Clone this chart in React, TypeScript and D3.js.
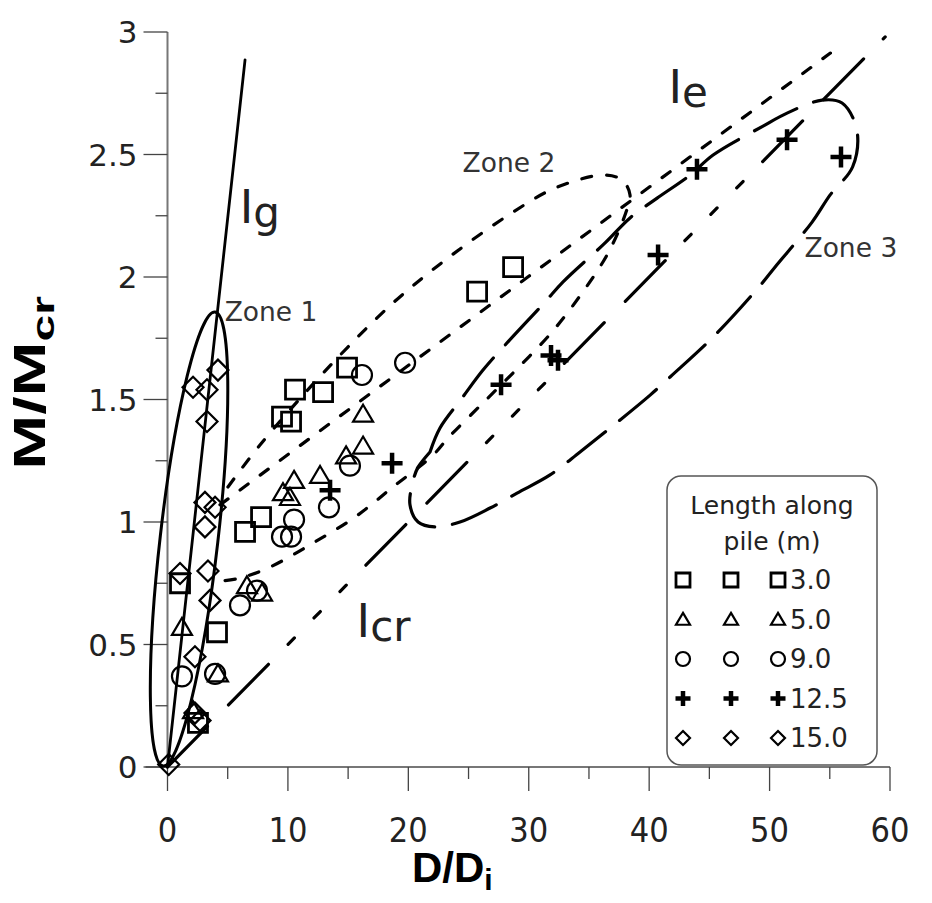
import * as d3 from 'd3';

const W = 932;
const H = 903;

// data points [D/Di, M/Mcr] grouped by length along pile
const sq30: [number, number][] = [
  [1.04, 0.75], [2.53, 0.18], [4.11, 0.55], [6.44, 0.96], [7.77, 1.02],
  [9.51, 1.43], [10.26, 1.41], [10.59, 1.54], [12.92, 1.53], [14.91, 1.63],
  [25.71, 1.94], [28.7, 2.04],
];
const tri50: [number, number][] = [
  [1.2, 0.57], [2.12, 0.23], [4.19, 0.38], [6.6, 0.74], [7.85, 0.71],
  [9.59, 1.12], [10.17, 1.1], [10.51, 1.17], [12.67, 1.19], [14.83, 1.27],
  [16.24, 1.31], [16.24, 1.44],
];
const circ90: [number, number][] = [
  [1.2, 0.37], [3.95, 0.38], [6.02, 0.66], [7.43, 0.72], [9.51, 0.94],
  [10.26, 0.94], [10.51, 1.01], [13.41, 1.06], [15.15, 1.23], [16.15, 1.6],
  [19.73, 1.65],
];
const plus125: [number, number][] = [
  [13.5, 1.13], [18.65, 1.24], [27.7, 1.56], [31.85, 1.68], [32.43, 1.66],
  [40.74, 2.09], [43.97, 2.44], [51.45, 2.56], [55.93, 2.49],
];
const diam150: [number, number][] = [
  [4.19, 1.62], [2.12, 1.55], [3.28, 1.54], [3.28, 1.41], [3.11, 1.08],
  [3.95, 1.06], [3.11, 0.98], [3.36, 0.8], [1.04, 0.79], [3.53, 0.68],
  [2.28, 0.45], [2.28, 0.22], [2.7, 0.19], [0.1, 0.01],
];

const xTicks = [0, 10, 20, 30, 40, 50, 60];
const xMinor = [5, 15, 25, 35, 45, 55];
const yTicks = [0, 0.5, 1, 1.5, 2, 2.5, 3];
const yMinor = [0.25, 0.75, 1.25, 1.75, 2.25, 2.75];

// guide lines
const igLine: [number, number][] = [[0, 0], [6.44, 2.886]];
const icrLine: [number, number][] = [[0, 0], [59.6, 2.98]];
const ieLine: [number, number][] = [[4.36, 1.07], [55.05, 2.914]];
const zone1Tips: [number, number][] = [[-0.37, 0.004], [3.95, 1.857]];
const zone1HalfWidth = 2.4; // in D/Di units
const zone2: [number, number][] = [
  [5.02, 1.143], [7.68, 1.314], [13.33, 1.629], [18.73, 1.894], [23.63, 2.09],
  [28.7, 2.265], [32.18, 2.363], [36.17, 2.416], [37.75, 2.396], [38.41, 2.335],
  [38.08, 2.265], [36.59, 2.098], [34.43, 1.935], [31.94, 1.776], [29.11, 1.629],
  [26.2, 1.486], [23.3, 1.343], [22.05, 1.273], [18.73, 1.143], [15.57, 1.02],
  [12.08, 0.914], [8.51, 0.816], [6.02, 0.771], [3.7, 0.755],
];
const zone3: [number, number][] = [
  [21.8, 1.286], [22.63, 1.384], [24.46, 1.506], [26.2, 1.62], [28.03, 1.722],
  [31.35, 1.898], [32.85, 1.98], [36.34, 2.139], [38.41, 2.241], [40.66, 2.322],
  [43.4, 2.416], [45.31, 2.498], [49.46, 2.616], [51.45, 2.669], [54.36, 2.722],
  [56.02, 2.71], [57.25, 2.6], [56.9, 2.45], [55.03, 2.335],
  [53.53, 2.224], [50.46, 2.041], [49.04, 1.955], [45.31, 1.755], [41.74, 1.592],
  [40.08, 1.518], [36.34, 1.367], [34.26, 1.286], [31.77, 1.192], [29.03, 1.118],
  [26.79, 1.057], [24.29, 1.0], [22.22, 0.98], [20.81, 1.0], [20.14, 1.069],
  [20.31, 1.151], [20.81, 1.224], [21.8, 1.286],
];

const annotations = [
  { x: 6.0, y: 2.22, main: 'I', sub: 'g' },
  { x: 41.6, y: 2.71, main: 'I', sub: 'e' },
  { x: 15.7, y: 0.53, main: 'I', sub: 'cr' },
];
const zoneLabels = [
  { x: 4.75, y: 1.82, text: 'Zone 1' },
  { x: 24.5, y: 2.43, text: 'Zone 2' },
  { x: 52.9, y: 2.08, text: 'Zone 3' },
];
const legendItems = [
  { label: '3.0', shape: 'square' },
  { label: '5.0', shape: 'triangle' },
  { label: '9.0', shape: 'circle' },
  { label: '12.5', shape: 'plus' },
  { label: '15.0', shape: 'diamond' },
];

const x = d3.scaleLinear().domain([0, 60]).range([167.5, 890]);
const y = d3.scaleLinear().domain([0, 3]).range([767, 32]);

const line = d3.line<[number, number]>().x(d => x(d[0])).y(d => y(d[1]));
const smooth = d3.line<[number, number]>().x(d => x(d[0])).y(d => y(d[1])).curve(d3.curveCatmullRom.alpha(0.5));

const sansWide = "'DejaVu Sans', sans-serif";
const sansNarrow = "'Liberation Sans Narrow', 'DejaVu Sans Condensed', sans-serif";
const sansBold = "'Liberation Sans', Arial, sans-serif";

function markerPath(shape: string, s: number) {
  const h = s / 2;
  if (shape === 'square') return `M${-h},${-h}H${h}V${h}H${-h}Z`;
  if (shape === 'triangle') return `M0,${-h * 0.95}L${h},${h * 0.75}L${-h},${h * 0.75}Z`;
  if (shape === 'diamond') return `M0,${-h}L${h},0L0,${h}L${-h},0Z`;
  if (shape === 'plus') return `M${-h},0H${h}M0,${-h}V${h}`;
  return '';
}

function Marker({ shape, cx, cy, s }: { shape: string; cx: number; cy: number; s: number }) {
  if (shape === 'circle') {
    return <circle cx={cx} cy={cy} r={s / 2} fill="none" stroke="#000" strokeWidth={2.2} />;
  }
  return (
    <path
      transform={`translate(${cx},${cy})`}
      d={markerPath(shape, s)}
      fill="none"
      stroke="#000"
      strokeWidth={shape === 'plus' ? 4.5 : shape === 'square' ? 2.8 : 2.2}
      strokeLinejoin="miter"
    />
  );
}

function zone1Path() {
  const [p0, p1] = zone1Tips.map(d => [x(d[0]), y(d[1])]);
  const cx = (p0[0] + p1[0]) / 2;
  const cy = (p0[1] + p1[1]) / 2;
  const a = Math.hypot(p1[0] - p0[0], p1[1] - p0[1]) / 2;
  const b = x(zone1HalfWidth) - x(0);
  const ang = (Math.atan2(p1[1] - p0[1], p1[0] - p0[0]) * 180) / Math.PI;
  return { cx, cy, a, b, ang };
}

export default function App() {
  const e = zone1Path();
  const series: { shape: string; data: [number, number][]; s: number }[] = [
    { shape: 'square', data: sq30, s: 19 },
    { shape: 'triangle', data: tri50, s: 20 },
    { shape: 'circle', data: circ90, s: 20 },
    { shape: 'plus', data: plus125, s: 21 },
    { shape: 'diamond', data: diam150, s: 21 },
  ];
  const lg = { x0: 667, y0: 476, w: 210, h: 289 };
  const cols = [683, 731, 778];

  return (
    <svg width={W} height={H} style={{ position: 'absolute', left: 0, top: 0, background: '#fff' }}>
      {/* axes */}
      <g stroke="#444" strokeWidth={1.3}>
        <line x1={x(0)} x2={x(0)} y1={y(3)} y2={y(0)} stroke="#777" strokeWidth={2} />
        <line x1={x(0) - 22} x2={x(60)} y1={y(0)} y2={y(0)} stroke="#777" strokeWidth={2} />
        {yTicks.map(t => (
          <line key={'yt' + t} x1={x(0) - 24} x2={x(0)} y1={y(t)} y2={y(t)} />
        ))}
        {yMinor.map(t => (
          <line key={'ym' + t} x1={x(0) - 12} x2={x(0)} y1={y(t)} y2={y(t)} />
        ))}
        {xTicks.map(t => (
          <line key={'xt' + t} x1={x(t)} x2={x(t)} y1={y(0)} y2={y(0) + 24} />
        ))}
        {xMinor.map(t => (
          <line key={'xm' + t} x1={x(t)} x2={x(t)} y1={y(0)} y2={y(0) + 12} />
        ))}
      </g>
      <g fontFamily={sansWide} fontSize={31} fill="#222">
        {yTicks.map(t => (
          <text key={'yl' + t} x={x(0) - 30} y={y(t)} dy="0.36em" textAnchor="end">
            {String(t)}
          </text>
        ))}
      </g>
      <g fontFamily={sansNarrow} fontSize={34} fill="#222">
        {xTicks.map(t => (
          <text key={'xl' + t} x={x(t)} y={y(0) + 75} textAnchor="middle">
            {String(t)}
          </text>
        ))}
      </g>
      <text x={412} y={882} fontFamily={sansBold} fontWeight="bold" fontSize={42} fill="#000">
        D/D<tspan fontSize={30} dy={8}>i</tspan>
      </text>
      <text transform={`translate(45,383) rotate(-90) scale(1.5,1)`} fontFamily={sansBold} fontWeight="bold" fontSize={44} textAnchor="middle" fill="#000">
        M/M<tspan fontSize={32} dy={9}>cr</tspan>
      </text>

      {/* guide lines and zones */}
      <g fill="none" stroke="#000" strokeLinecap="round">
        <path d={line(igLine) ?? ''} strokeWidth={2.8} />
        <ellipse cx={0} cy={0} rx={e.a} ry={e.b} transform={`translate(${e.cx},${e.cy}) rotate(${e.ang})`} strokeWidth={3} />
        <path d={line(icrLine) ?? ''} strokeWidth={3.2} strokeDasharray="57 30 57 28 9 28 9 28 9 28" />
        <path d={line(ieLine) ?? ''} strokeWidth={3.2} strokeDasharray="10 15" />
        <path d={smooth(zone2) ?? ''} strokeWidth={3.2} strokeDasharray="10 15" />
        <path d={smooth(zone3) ?? ''} strokeWidth={3.2} strokeDasharray="48 18" />
      </g>

      {/* data markers */}
      {series.map(sr => (
        <g key={sr.shape}>
          {sr.data.map((d, i) => (
            <Marker key={i} shape={sr.shape} cx={x(d[0])} cy={y(d[1])} s={sr.s} />
          ))}
        </g>
      ))}

      {/* annotations */}
      <g fontFamily={sansWide} fill="#222">
        {annotations.map(a => (
          <text key={a.sub} x={x(a.x)} y={y(a.y)} fontSize={46}>
            {a.main}
            <tspan fontSize={42} dy={4}>{a.sub}</tspan>
          </text>
        ))}
        {zoneLabels.map(z => (
          <text key={z.text} x={x(z.x)} y={y(z.y)} fontSize={26.5} fill="#333">
            {z.text}
          </text>
        ))}
      </g>

      {/* legend */}
      <g>
        <rect x={lg.x0} y={lg.y0} width={lg.w} height={lg.h} rx={14} fill="#fff" stroke="#555" strokeWidth={1.5} />
        <text x={lg.x0 + lg.w / 2} y={lg.y0 + 38} textAnchor="middle" fontFamily={sansWide} fontSize={25} fill="#222">
          Length along
        </text>
        <text x={lg.x0 + lg.w / 2} y={lg.y0 + 74} textAnchor="middle" fontFamily={sansWide} fontSize={25} fill="#222">
          pile (m)
        </text>
        {legendItems.map((it, i) => {
          const cy = lg.y0 + 104 + i * 39.5;
          return (
            <g key={it.label}>
              {cols.map(cx => (
                <Marker key={cx} shape={it.shape} cx={cx} cy={cy} s={it.shape === 'plus' ? 15 : 14} />
              ))}
              <text x={cols[2] + 12} y={cy} dy="0.36em" fontFamily={sansWide} fontSize={26} fill="#222">
                {it.label}
              </text>
            </g>
          );
        })}
      </g>
    </svg>
  );
}
